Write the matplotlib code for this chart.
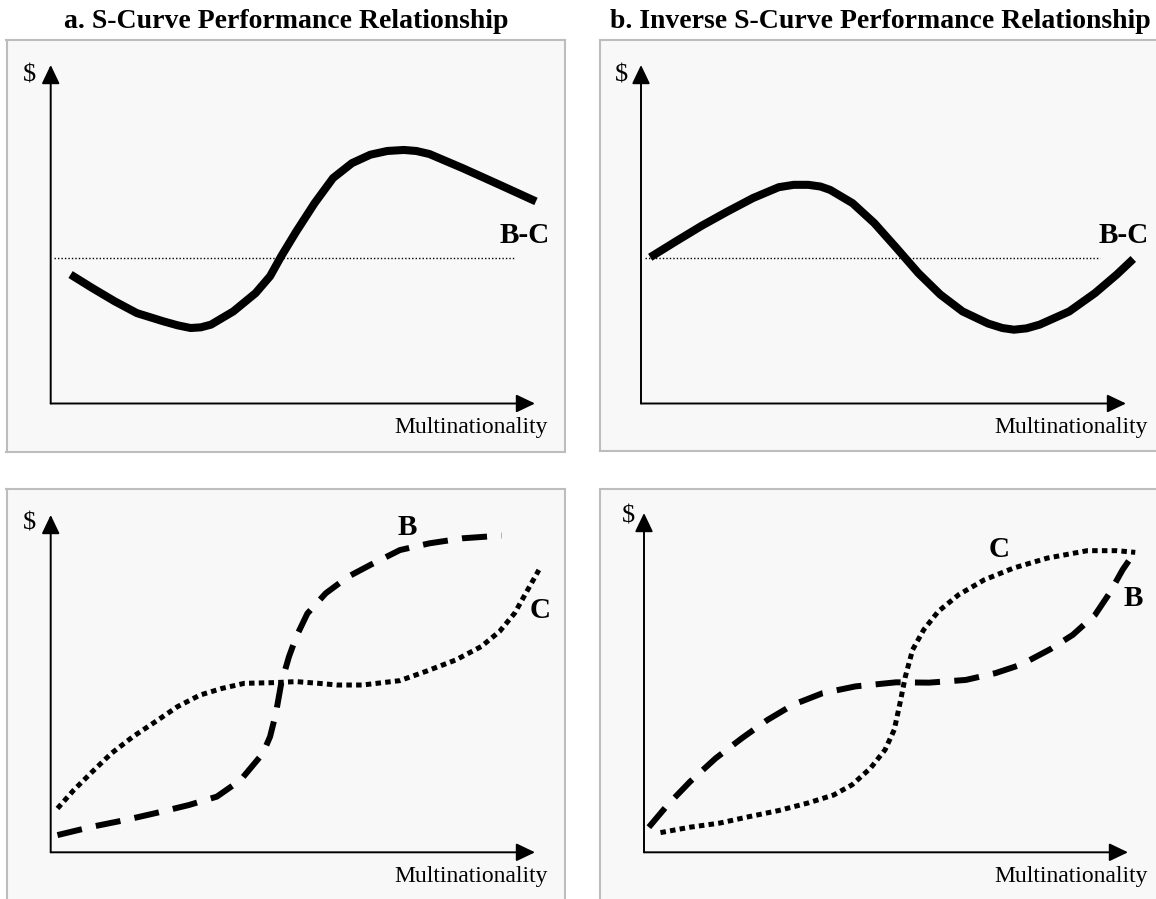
import matplotlib
matplotlib.use("Agg")
import matplotlib.pyplot as plt

plt.rcParams['font.family'] = ['Liberation Serif', 'DejaVu Serif']

# ---- data (unitless: 0 = axis origin, 10 = arrow tip) ----
titles = ["a. S-Curve Performance Relationship",
          "b. Inverse S-Curve Performance Relationship"]
x_label = "Multinationality"
y_label = "$"

# panel a, top: net B-C
net_a_x = [0.41, 0.86, 1.32, 1.78, 2.32, 2.62, 2.89, 3.10, 3.31, 3.77, 4.23, 4.53, 4.76,
           5.07, 5.45, 5.83, 6.22, 6.60, 6.95, 7.29, 7.55, 7.82, 8.51, 9.27, 10.02]
net_a_y = [3.81, 3.41, 3.02, 2.67, 2.43, 2.31, 2.23, 2.25, 2.33, 2.72, 3.26, 3.76, 4.35,
           5.08, 5.92, 6.66, 7.10, 7.35, 7.46, 7.49, 7.46, 7.37, 6.95, 6.46, 5.97]
zero_a = 4.30
zero_a_x = [0.06, 9.58]

# panel b, top: net B-C
net_b_x = [0.19, 0.72, 1.25, 1.78, 2.31, 2.84, 3.15, 3.45, 3.70, 3.90, 4.36, 4.81, 5.27,
           5.72, 6.17, 6.63, 7.16, 7.45, 7.69, 7.95, 8.22, 8.83, 9.36, 9.81, 10.15]
net_b_y = [4.32, 4.79, 5.25, 5.67, 6.07, 6.39, 6.46, 6.46, 6.41, 6.31, 5.92, 5.33, 4.59,
           3.85, 3.22, 2.72, 2.36, 2.23, 2.18, 2.22, 2.33, 2.72, 3.26, 3.81, 4.27]
zero_b = 4.30
zero_b_x = [0.08, 9.47]

# panel a, bottom: benefits B (dashed) and costs C (dotted)
ben_a_x = [0.14, 0.86, 1.55, 2.16, 2.85, 3.43, 3.92, 4.38, 4.53, 4.65, 4.76,
           4.92, 5.07, 5.30, 5.68, 6.14, 6.60, 7.21, 7.82, 8.51, 9.31]
ben_a_y = [0.51, 0.76, 0.96, 1.16, 1.40, 1.65, 2.14, 2.93, 3.43, 4.12, 5.01,
           5.80, 6.39, 7.08, 7.68, 8.17, 8.52, 8.96, 9.16, 9.31, 9.39]
cost_a_x = [0.14, 0.48, 0.86, 1.25, 1.70, 2.16, 2.62, 3.08, 3.54, 4.00, 4.61,
            5.07, 5.53, 5.91, 6.44, 7.21, 7.74, 8.36, 8.89, 9.27, 9.58, 9.81, 10.08]
cost_a_y = [1.30, 1.85, 2.39, 2.93, 3.43, 3.87, 4.32, 4.66, 4.86, 5.01, 5.03,
            5.06, 5.01, 4.96, 4.96, 5.09, 5.36, 5.70, 6.10, 6.55, 7.09, 7.68, 8.37]

# panel b, bottom
ben_b_x = [0.10, 0.49, 0.95, 1.48, 2.02, 2.55, 3.08, 3.69, 4.37, 5.21, 5.89,
           6.65, 7.26, 7.79, 8.40, 8.86, 9.32, 9.62, 9.89, 10.15]
ben_b_y = [0.74, 1.40, 2.08, 2.77, 3.36, 3.90, 4.35, 4.69, 4.89, 5.01, 5.00,
           5.08, 5.28, 5.53, 5.99, 6.41, 7.00, 7.64, 8.33, 8.87]
cost_b_x = [0.34, 0.95, 1.56, 2.17, 2.78, 3.38, 3.92, 4.30, 4.68, 4.98, 5.17,
            5.29, 5.40, 5.55, 5.78, 6.08, 6.50, 7.03, 7.64, 8.33, 9.16, 9.77, 10.15]
cost_b_y = [0.58, 0.74, 0.86, 1.05, 1.23, 1.45, 1.69, 1.99, 2.48, 3.02, 3.61,
            4.40, 5.18, 5.97, 6.56, 7.10, 7.59, 8.03, 8.38, 8.67, 8.89, 8.89, 8.84]

# ---- layout in pixels ----
W, H = 1156, 899
# frame (left, top, right, bottom), axis origin, arrow tip
frames = {
    'tl': ((6.5, 40, 565, 452), (50.7, 403.5), (535, 65)),
    'tr': ((600, 40, 1160, 451), (641, 403.5), (1126, 65)),
    'bl': ((6.5, 488.5, 565, 905), (50.7, 852.3), (535, 515)),
    'br': ((600, 488.5, 1160, 905), (644, 852.3), (1128, 513)),
}

fig = plt.figure(figsize=(W / 100, H / 100), dpi=100)
fig.patch.set_facecolor('white')


def make_panel(key):
    (l, t, r, b), (ox, oy), (tx, ty) = frames[key]
    ax = fig.add_axes([l / W, 1 - b / H, (r - l) / W, (b - t) / H])
    sx = 10 / (tx - ox)
    sy = 10 / (oy - ty)
    ax.set_xlim((l - ox) * sx, (r - ox) * sx)
    ax.set_ylim((oy - b) * sy, (oy - t) * sy)
    ax.set_facecolor('#f8f8f8')
    for sp in ax.spines.values():
        sp.set_color('#bdbdbd')
        sp.set_linewidth(1.5)
    ax.set_xticks([])
    ax.set_yticks([])
    arrow = dict(arrowstyle='-|>,head_length=1.15,head_width=0.55',
                 mutation_scale=10, lw=1.4, color='black', shrinkA=0, shrinkB=0)
    ax.annotate('', xy=(0, 10), xytext=(0, 0), arrowprops=arrow)
    ax.annotate('', xy=(10, 0), xytext=(0, 0), arrowprops=arrow)
    return ax


def net_panel(ax, xs, ys, zero, zx, label_x, dollar_x, mult_x):
    ax.plot(zx, [zero, zero], color='black', lw=1.0, ls=(0, (1, 1.5)))
    ax.plot(xs, ys, color='black', lw=5.8, solid_capstyle='butt',
            solid_joinstyle='round', clip_on=False)
    ax.text(label_x, 4.96, "B-C", fontsize=21, fontweight='bold',
            ha='center', va='center')
    ax.text(dollar_x, 9.68, y_label, fontsize=19, ha='center', va='center')
    ax.text(mult_x, -0.72, x_label, fontsize=17, ha='right', va='center')


def bc_panel(ax, bx, by, cx, cy, b_pos, c_pos, dollar_pos, mult_x):
    ax.plot(bx, by, color='black', lw=4.3, ls=(0, (4.2, 2.4)),
            dash_capstyle='butt', dash_joinstyle='round', clip_on=False)
    ax.plot(cx, cy, color='black', lw=3.6, ls=(0, (1.1, 0.85)),
            dash_capstyle='butt', clip_on=False)
    ax.text(b_pos[0], b_pos[1], "B", fontsize=21, fontweight='bold',
            ha='center', va='center')
    ax.text(c_pos[0], c_pos[1], "C", fontsize=21, fontweight='bold',
            ha='center', va='center')
    ax.text(dollar_pos[0], dollar_pos[1], y_label, fontsize=19,
            ha='center', va='center')
    ax.text(mult_x, -0.72, x_label, fontsize=17, ha='right', va='center')


ax_tl = make_panel('tl')
net_panel(ax_tl, net_a_x, net_a_y, zero_a, zero_a_x, 9.79, -0.44, 10.27)
ax_tr = make_panel('tr')
net_panel(ax_tr, net_b_x, net_b_y, zero_b, zero_b_x, 9.96, -0.41, 10.45)
ax_bl = make_panel('bl')
bc_panel(ax_bl, ben_a_x, ben_a_y, cost_a_x, cost_a_y,
         (7.36, 9.63), (10.10, 7.18), (-0.44, 9.75), 10.27)
ax_br = make_panel('br')
bc_panel(ax_br, ben_b_x, ben_b_y, cost_b_x, cost_b_y,
         (10.11, 7.49), (7.34, 8.92), (-0.32, 9.90), 10.41)

for key, title in zip(['tl', 'tr'], titles):
    (l, t, r, b) = frames[key][0]
    fig.text((l + r) / 2 / W, 1 - 28.5 / H, title, fontsize=20,
             fontweight='bold', ha='center', va='baseline')

fig.savefig('out.png', dpi=100)
